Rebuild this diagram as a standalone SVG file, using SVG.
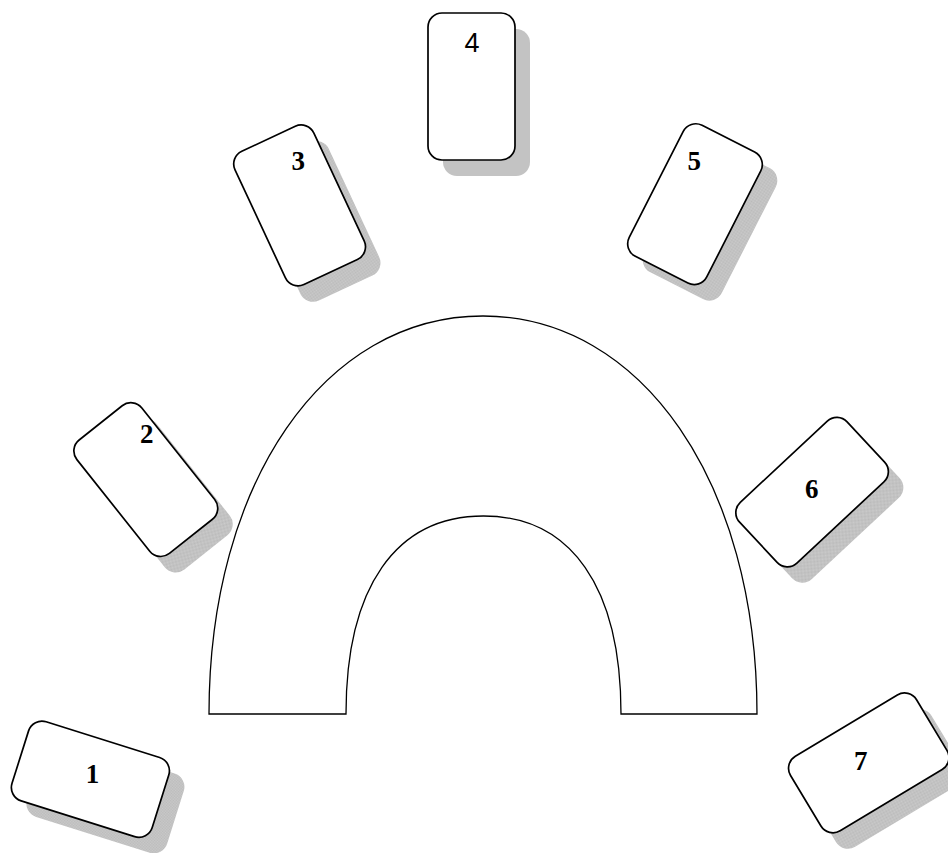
<svg xmlns="http://www.w3.org/2000/svg" width="948" height="853" viewBox="0 0 948 853">
  <defs>
    <pattern id="dither" patternUnits="userSpaceOnUse" width="2" height="2">
      <rect width="2" height="2" fill="#cbcbcb"/>
      <rect width="1" height="1" fill="#bababa"/>
      <rect x="1" y="1" width="1" height="1" fill="#bababa"/>
    </pattern>
  </defs>
  <style>
    .shadow { fill: url(#dither); stroke: none; }
    .card { fill: #ffffff; stroke: #000000; stroke-width: 1.7; }
    .arch { fill: #ffffff; stroke: #000000; stroke-width: 1.3; stroke-linejoin: miter; }
    .lbl { font-family: "Liberation Serif", "Times New Roman", serif; font-weight: bold; font-size: 27px; fill: #000000; text-anchor: middle; }
    .lbl4 { font-family: "Liberation Sans", Arial, sans-serif; font-size: 27px; fill: #000000; text-anchor: middle; }
  </style>

  <g id="arch">
    <path class="arch" d="M209,714 C209,483 324,316 483,316 C642,316 757,483 757,714 L621,714 C621,587 571,516 483.5,516 C396,516 346,587 346,714 Z"/>
  </g>

  <g id="connectors"></g>

  <g id="card4">
    <rect class="shadow" x="-43.5" y="-73.5" width="87" height="147" rx="14" transform="translate(486.5,102.5)"/>
    <rect class="card" x="-43.5" y="-73.5" width="87" height="147" rx="14" transform="translate(471.5,86.5)"/>
    <text class="lbl4" x="472" y="52">4</text>
  </g>

  <g id="card3">
    <rect class="shadow" x="-43.5" y="-73.5" width="87" height="147" rx="14" transform="translate(314.6,221.4) rotate(-25)"/>
    <rect class="card" x="-43.5" y="-73.5" width="87" height="147" rx="14" transform="translate(299.6,205.4) rotate(-25)"/>
    <text class="lbl" x="298.3" y="170">3</text>
  </g>

  <g id="card5">
    <rect class="shadow" x="-43.5" y="-73.5" width="87" height="147" rx="14" transform="translate(710,220.2) rotate(27)"/>
    <rect class="card" x="-43.5" y="-73.5" width="87" height="147" rx="14" transform="translate(695,204.2) rotate(27)"/>
    <text class="lbl" x="694.2" y="170">5</text>
  </g>

  <g id="card2">
    <rect class="shadow" x="-41.5" y="-72.5" width="83" height="145" rx="14" transform="translate(160.8,495.6) rotate(-38.5)"/>
    <rect class="card" x="-41.5" y="-72.5" width="83" height="145" rx="14" transform="translate(145.8,479.6) rotate(-38.5)"/>
    <text class="lbl" x="146.7" y="443.3">2</text>
  </g>

  <g id="card1">
    <rect class="shadow" x="-73.5" y="-41.5" width="147" height="83" rx="14" transform="translate(105.4,795.2) rotate(17.5)"/>
    <rect class="card" x="-73.5" y="-41.5" width="147" height="83" rx="14" transform="translate(90.4,779.2) rotate(17.5)"/>
    <text class="lbl" x="92.5" y="783">1</text>
  </g>

  <g id="card6">
    <rect class="shadow" x="-73.5" y="-41.5" width="147" height="83" rx="14" transform="translate(827.1,508.1) rotate(-43)"/>
    <rect class="card" x="-73.5" y="-41.5" width="147" height="83" rx="14" transform="translate(812.1,492.1) rotate(-43)"/>
    <text class="lbl" x="811.7" y="498.3">6</text>
  </g>

  <g id="card7">
    <rect class="shadow" x="-73.5" y="-43.5" width="147" height="87" rx="14" transform="translate(883.75,778.9) rotate(-31)"/>
    <rect class="card" x="-73.5" y="-43.5" width="147" height="87" rx="14" transform="translate(868.75,762.9) rotate(-31)"/>
    <text class="lbl" x="860.8" y="770">7</text>
  </g>
</svg>
